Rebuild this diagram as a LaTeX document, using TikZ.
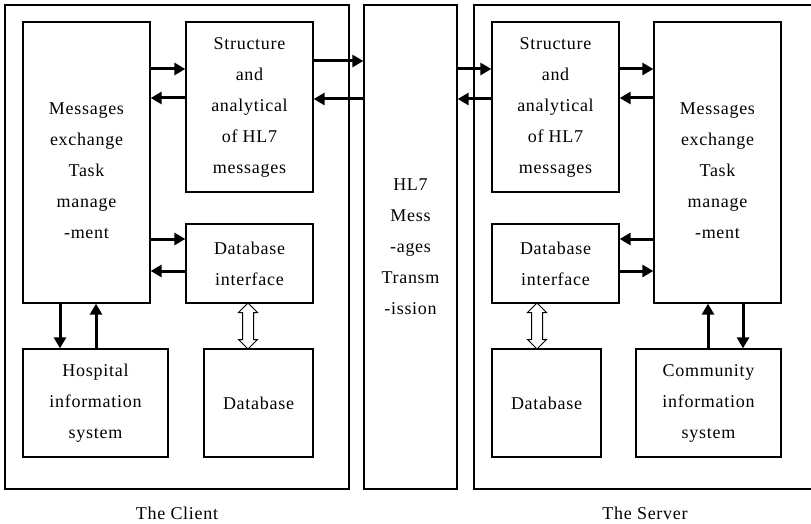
\documentclass[tikz,border=0pt]{standalone}
\usepackage{fontspec}
\setmainfont[LetterSpace=4]{Liberation Serif}
\usetikzlibrary{arrows.meta,shapes.arrows}
\begin{document}
\begin{tikzpicture}[x=1pt,y=-1pt,
  box/.style={draw,line width=1.3pt,inner sep=0pt,align=center,font=\fontsize{18}{31}\selectfont},
  txt/.style={inner sep=0pt,align=center,font=\fontsize{18}{31}\selectfont},
  arr/.style={line width=3pt,-{Triangle[length=11pt,width=12pt]}},
  hollow/.style={double arrow,draw,line width=1pt,fill=white,rotate=90,minimum height=46pt,text height=5pt,text depth=5pt,text width=0pt,double arrow head extend=4pt,inner sep=0pt}]
\useasboundingbox (0,0) rectangle (811,524);
% outer boxes
\node[box,minimum width=344pt,minimum height=484pt] (client) at (177,247) {};
\node[box,minimum width=93pt,minimum height=484pt] (mid) at (410.5,247) {HL7\\Mess\\-ages\\Transm\\-ission};
\node[box,minimum width=339pt,minimum height=484pt] (server) at (643.5,247) {};
% client inner
\node[box,minimum width=127pt,minimum height=281pt] (cmsg) at (86.5,162.5) {};
\node[txt] at (86.5,170.5) {Messages\\exchange\\Task\\manage\\-ment};
\node[box,minimum width=127pt,minimum height=170pt] (cstr) at (249.5,107) {Structure\\and\\analytical\\of HL7\\messages};
\node[box,minimum width=127pt,minimum height=79pt] (cdbi) at (249.5,263.5) {Database\\interface};
\node[box,minimum width=145pt,minimum height=108pt] (chis) at (95.5,403) {Hospital\\information\\system};
\node[box,minimum width=109pt,minimum height=108pt] (cdb) at (258.5,403) {Database};
% server inner
\node[box,minimum width=127pt,minimum height=170pt] (sstr) at (555.5,107) {Structure\\and\\analytical\\of HL7\\messages};
\node[box,minimum width=127pt,minimum height=281pt] (smsg) at (717.5,162.5) {};
\node[txt] at (717.5,170.5) {Messages\\exchange\\Task\\manage\\-ment};
\node[box,minimum width=127pt,minimum height=79pt] (sdbi) at (555.5,263.5) {Database\\interface};
\node[box,minimum width=109pt,minimum height=108pt] (sdb) at (546.5,403) {Database};
\node[box,minimum width=145pt,minimum height=108pt] (scom) at (708.5,403) {Community\\information\\system};
% captions
\node[txt] (lc) at (177,513) {The Client};
\node[txt] (ls) at (645,513) {The Server};
% client arrows
\draw[arr] (cmsg.east |- 0,69) -- (cstr.west |- 0,69);
\draw[arr] (cstr.west |- 0,98) -- (cmsg.east |- 0,98);
\draw[arr] (cstr.east |- 0,61) -- (mid.west |- 0,61);
\draw[arr] (mid.west |- 0,99) -- (cstr.east |- 0,99);
\draw[arr] (cmsg.east |- 0,239) -- (cdbi.west |- 0,239);
\draw[arr] (cdbi.west |- 0,271) -- (cmsg.east |- 0,271);
\draw[arr] (cmsg.south -| 60,0) -- (chis.north -| 60,0);
\draw[arr] (chis.north -| 96,0) -- (cmsg.south -| 96,0);
% server arrows
\draw[arr] (mid.east |- 0,69) -- (sstr.west |- 0,69);
\draw[arr] (sstr.west |- 0,99) -- (mid.east |- 0,99);
\draw[arr] (sstr.east |- 0,69) -- (smsg.west |- 0,69);
\draw[arr] (smsg.west |- 0,98) -- (sstr.east |- 0,98);
\draw[arr] (smsg.west |- 0,239) -- (sdbi.east |- 0,239);
\draw[arr] (sdbi.east |- 0,271) -- (smsg.west |- 0,271);
\draw[arr] (scom.north -| 708,0) -- (smsg.south -| 708,0);
\draw[arr] (smsg.south -| 743,0) -- (scom.north -| 743,0);
% hollow double arrows
\node[hollow] (cda) at (248,326) {};
\node[hollow] (sda) at (537,326) {};
\end{tikzpicture}
\end{document}
